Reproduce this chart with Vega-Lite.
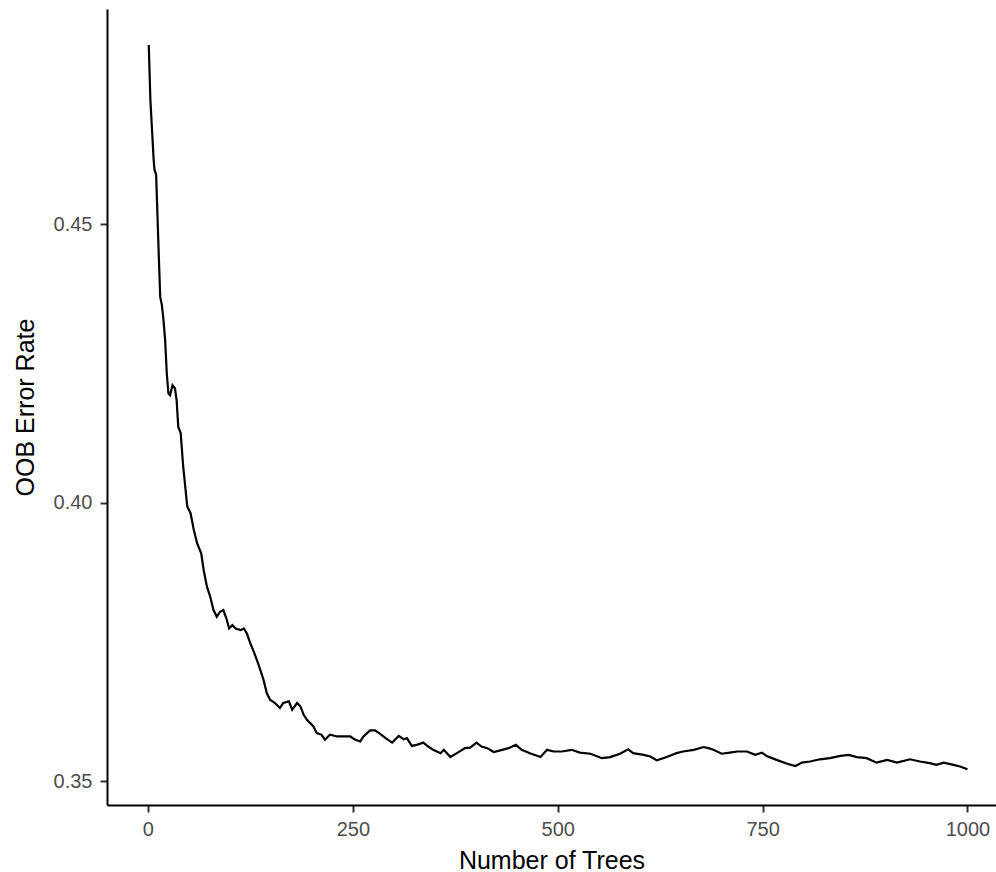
{
  "$schema": "https://vega.github.io/schema/vega-lite/v6.json",
  "width": 889,
  "height": 796,
  "autosize": {"type": "none"},
  "padding": {"left": 107, "top": 9, "right": 0, "bottom": 67},
  "background": "white",
  "config": {"view": {"stroke": null}, "font": "Liberation Sans"},
  "data": {"values": [
    {"trees": 1, "oob": 0.4822},
    {"trees": 3, "oob": 0.4723},
    {"trees": 7, "oob": 0.4615},
    {"trees": 8, "oob": 0.4598},
    {"trees": 10, "oob": 0.4589},
    {"trees": 11, "oob": 0.4544},
    {"trees": 13, "oob": 0.4454},
    {"trees": 15, "oob": 0.4369},
    {"trees": 17, "oob": 0.4355},
    {"trees": 19, "oob": 0.4328},
    {"trees": 21, "oob": 0.4292},
    {"trees": 23, "oob": 0.4232},
    {"trees": 25, "oob": 0.4196},
    {"trees": 27, "oob": 0.4193},
    {"trees": 30, "oob": 0.4211},
    {"trees": 33, "oob": 0.4205},
    {"trees": 35, "oob": 0.4184},
    {"trees": 37, "oob": 0.4136},
    {"trees": 40, "oob": 0.4125},
    {"trees": 43, "oob": 0.4065},
    {"trees": 48, "oob": 0.3993},
    {"trees": 52, "oob": 0.3981},
    {"trees": 56, "oob": 0.3951},
    {"trees": 60, "oob": 0.3927},
    {"trees": 65, "oob": 0.3909},
    {"trees": 68, "oob": 0.3879},
    {"trees": 72, "oob": 0.3849},
    {"trees": 76, "oob": 0.3831},
    {"trees": 80, "oob": 0.3807},
    {"trees": 84, "oob": 0.3795},
    {"trees": 88, "oob": 0.3804},
    {"trees": 92, "oob": 0.3807},
    {"trees": 96, "oob": 0.3791},
    {"trees": 99, "oob": 0.3774},
    {"trees": 103, "oob": 0.3780},
    {"trees": 107, "oob": 0.3774},
    {"trees": 113, "oob": 0.3771},
    {"trees": 117, "oob": 0.3774},
    {"trees": 121, "oob": 0.3764},
    {"trees": 125, "oob": 0.3747},
    {"trees": 129, "oob": 0.3733},
    {"trees": 133, "oob": 0.3717},
    {"trees": 137, "oob": 0.3700},
    {"trees": 141, "oob": 0.3682},
    {"trees": 145, "oob": 0.3658},
    {"trees": 149, "oob": 0.3646},
    {"trees": 155, "oob": 0.3640},
    {"trees": 161, "oob": 0.3631},
    {"trees": 165, "oob": 0.3640},
    {"trees": 172, "oob": 0.3643},
    {"trees": 176, "oob": 0.3628},
    {"trees": 182, "oob": 0.3640},
    {"trees": 186, "oob": 0.3634},
    {"trees": 190, "oob": 0.3619},
    {"trees": 194, "oob": 0.3610},
    {"trees": 198, "oob": 0.3604},
    {"trees": 202, "oob": 0.3598},
    {"trees": 206, "oob": 0.3586},
    {"trees": 212, "oob": 0.3583},
    {"trees": 216, "oob": 0.3574},
    {"trees": 222, "oob": 0.3583},
    {"trees": 231, "oob": 0.3580},
    {"trees": 239, "oob": 0.3580},
    {"trees": 247, "oob": 0.3580},
    {"trees": 253, "oob": 0.3574},
    {"trees": 259, "oob": 0.3571},
    {"trees": 263, "oob": 0.3580},
    {"trees": 271, "oob": 0.3591},
    {"trees": 277, "oob": 0.3591},
    {"trees": 283, "oob": 0.3585},
    {"trees": 290, "oob": 0.3577},
    {"trees": 298, "oob": 0.3569},
    {"trees": 306, "oob": 0.3581},
    {"trees": 312, "oob": 0.3575},
    {"trees": 316, "oob": 0.3577},
    {"trees": 322, "oob": 0.3563},
    {"trees": 328, "oob": 0.3565},
    {"trees": 336, "oob": 0.3569},
    {"trees": 342, "oob": 0.3562},
    {"trees": 348, "oob": 0.3556},
    {"trees": 357, "oob": 0.3550},
    {"trees": 361, "oob": 0.3556},
    {"trees": 369, "oob": 0.3543},
    {"trees": 377, "oob": 0.3550},
    {"trees": 387, "oob": 0.3559},
    {"trees": 393, "oob": 0.3560},
    {"trees": 401, "oob": 0.3569},
    {"trees": 407, "oob": 0.3562},
    {"trees": 414, "oob": 0.3559},
    {"trees": 422, "oob": 0.3552},
    {"trees": 430, "oob": 0.3555},
    {"trees": 440, "oob": 0.3559},
    {"trees": 449, "oob": 0.3565},
    {"trees": 456, "oob": 0.3556},
    {"trees": 466, "oob": 0.3550},
    {"trees": 479, "oob": 0.3543},
    {"trees": 487, "oob": 0.3556},
    {"trees": 495, "oob": 0.3553},
    {"trees": 505, "oob": 0.3553},
    {"trees": 517, "oob": 0.3556},
    {"trees": 527, "oob": 0.3551},
    {"trees": 540, "oob": 0.3549},
    {"trees": 554, "oob": 0.3541},
    {"trees": 564, "oob": 0.3543},
    {"trees": 576, "oob": 0.3549},
    {"trees": 586, "oob": 0.3557},
    {"trees": 592, "oob": 0.3550},
    {"trees": 605, "oob": 0.3547},
    {"trees": 613, "oob": 0.3544},
    {"trees": 621, "oob": 0.3537},
    {"trees": 633, "oob": 0.3543},
    {"trees": 645, "oob": 0.3550},
    {"trees": 653, "oob": 0.3553},
    {"trees": 666, "oob": 0.3556},
    {"trees": 678, "oob": 0.3561},
    {"trees": 684, "oob": 0.3559},
    {"trees": 690, "oob": 0.3556},
    {"trees": 700, "oob": 0.3549},
    {"trees": 710, "oob": 0.3551},
    {"trees": 719, "oob": 0.3553},
    {"trees": 731, "oob": 0.3553},
    {"trees": 741, "oob": 0.3547},
    {"trees": 749, "oob": 0.3551},
    {"trees": 755, "oob": 0.3545},
    {"trees": 767, "oob": 0.3538},
    {"trees": 780, "oob": 0.3531},
    {"trees": 790, "oob": 0.3527},
    {"trees": 798, "oob": 0.3533},
    {"trees": 808, "oob": 0.3535},
    {"trees": 820, "oob": 0.3539},
    {"trees": 832, "oob": 0.3541},
    {"trees": 845, "oob": 0.3545},
    {"trees": 855, "oob": 0.3547},
    {"trees": 865, "oob": 0.3543},
    {"trees": 877, "oob": 0.3541},
    {"trees": 889, "oob": 0.3533},
    {"trees": 902, "oob": 0.3538},
    {"trees": 914, "oob": 0.3533},
    {"trees": 930, "oob": 0.3539},
    {"trees": 942, "oob": 0.3535},
    {"trees": 954, "oob": 0.3532},
    {"trees": 962, "oob": 0.3529},
    {"trees": 971, "oob": 0.3533},
    {"trees": 983, "oob": 0.3529},
    {"trees": 991, "oob": 0.3526},
    {"trees": 1000, "oob": 0.3521}
  ]},
  "mark": {"type": "line", "color": "black", "strokeWidth": 2.2, "clip": true},
  "encoding": {
    "x": {
      "field": "trees",
      "type": "quantitative",
      "scale": {"domain": [-49.95, 1034.8], "nice": false, "zero": false},
      "axis": {
        "values": [0, 250, 500, 750, 1000],
        "format": "d",
        "grid": false,
        "domainColor": "black",
        "domainWidth": 2,
        "tickColor": "#333333",
        "tickWidth": 2,
        "tickSize": 7,
        "labelPadding": 7,
        "labelFont": "Liberation Sans",
        "labelFontSize": 20,
        "labelColor": "#4d4d4d",
        "labelFlush": false,
        "title": "Number of Trees",
        "titleFont": "Liberation Sans",
        "titleFontSize": 25,
        "titleFontWeight": "normal",
        "titleColor": "black",
        "titleBaseline": "alphabetic",
        "titleY": 63
      }
    },
    "y": {
      "field": "oob",
      "type": "quantitative",
      "scale": {"domain": [0.34569, 0.48867], "nice": false, "zero": false},
      "axis": {
        "values": [0.35, 0.40, 0.45],
        "format": ".2f",
        "grid": false,
        "domainColor": "black",
        "domainWidth": 2,
        "tickColor": "#333333",
        "tickWidth": 2,
        "tickSize": 7,
        "labelPadding": 8,
        "labelFont": "Liberation Sans",
        "labelFontSize": 20,
        "labelColor": "#4d4d4d",
        "labelFlush": false,
        "title": "OOB Error Rate",
        "titleFont": "Liberation Sans",
        "titleFontSize": 25,
        "titleFontWeight": "normal",
        "titleColor": "black",
        "titleBaseline": "alphabetic",
        "titleX": -74
      }
    }
  }
}
